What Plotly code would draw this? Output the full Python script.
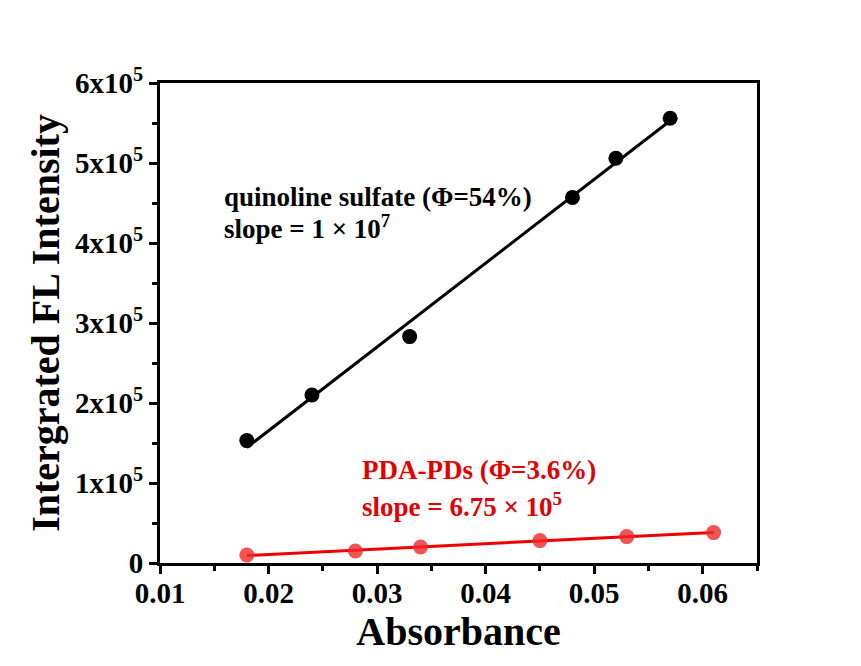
import numpy as np
import plotly.graph_objects as go

# Data
qs_abs = [0.018, 0.024, 0.033, 0.048, 0.052, 0.057]
qs_int = [153000, 210000, 283000, 457000, 506000, 556000]
pd_abs = [0.018, 0.028, 0.034, 0.045, 0.053, 0.061]
pd_int = [10000, 15000, 20000, 28000, 33000, 38000]
y_tickvals = [0, 100000, 200000, 300000, 400000, 500000, 600000]
y_ticktext = ["0", "1x10<sup>5</sup>", "2x10<sup>5</sup>", "3x10<sup>5</sup>",
              "4x10<sup>5</sup>", "5x10<sup>5</sup>", "6x10<sup>5</sup>"]
x_tickvals = [0.01, 0.02, 0.03, 0.04, 0.05, 0.06]
x_ticktext = ["0.01", "0.02", "0.03", "0.04", "0.05", "0.06"]

FONT = "Liberation Serif"

def fit(x, y):
    m, b = np.polyfit(x, y, 1)
    xs = [min(x), max(x)]
    return xs, [m * v + b for v in xs]

fig = go.Figure()
fx, fy = fit(qs_abs, qs_int)
fig.add_trace(go.Scatter(x=fx, y=fy, mode="lines", line=dict(color="black", width=3), showlegend=False))
fig.add_trace(go.Scatter(x=qs_abs, y=qs_int, mode="markers",
                         marker=dict(color="black", size=15), showlegend=False))
fx2, fy2 = fit(pd_abs, pd_int)
fig.add_trace(go.Scatter(x=fx2, y=fy2, mode="lines", line=dict(color="#ee0000", width=3), showlegend=False))
fig.add_trace(go.Scatter(x=pd_abs, y=pd_int, mode="markers",
                         marker=dict(color="rgba(240,40,40,0.8)", size=15), showlegend=False))

ann_font = dict(family=FONT, size=27, weight="bold")
fig.add_annotation(x=0.0157, y=457500, xref="x", yref="y", xanchor="left", yanchor="middle",
                   text="quinoline sulfate (Φ=54%)", showarrow=False,
                   font=dict(ann_font, color="black"))
fig.add_annotation(x=0.0157, y=420000, xref="x", yref="y", xanchor="left", yanchor="middle",
                   text="slope = 1 × 10<sup>7</sup>", showarrow=False,
                   font=dict(ann_font, color="black"))
fig.add_annotation(x=0.0284, y=116250, xref="x", yref="y", xanchor="left", yanchor="middle",
                   text="PDA-PDs (Φ=3.6%)", showarrow=False,
                   font=dict(ann_font, color="#e00000"))
fig.add_annotation(x=0.0284, y=73000, xref="x", yref="y", xanchor="left", yanchor="middle",
                   text="slope = 6.75 × 10<sup>5</sup>", showarrow=False,
                   font=dict(ann_font, color="#e00000"))

fig.update_layout(
    width=861, height=666,
    margin=dict(l=160, r=104, t=83, b=103),
    paper_bgcolor="white", plot_bgcolor="white",
    font=dict(family=FONT, color="black"),
)
fig.update_xaxes(
    range=[0.01, 0.065], tickvals=x_tickvals, ticktext=x_ticktext,
    showline=True, linecolor="black", linewidth=3, mirror=True,
    ticks="outside", ticklen=8, tickwidth=3, tickcolor="black",
    ticklabelstandoff=-6,
    minor=dict(tickvals=[0.015, 0.025, 0.035, 0.045, 0.055, 0.065], ticks="outside",
               ticklen=5, tickwidth=3, tickcolor="black"),
    showgrid=False, zeroline=False,
    tickfont=dict(family=FONT, size=29, weight="bold"),
    title=dict(text="Absorbance", font=dict(family=FONT, size=40, weight="bold"), standoff=0),
)
fig.update_yaxes(
    range=[0, 600000], tickvals=y_tickvals, ticktext=y_ticktext,
    showline=True, linecolor="black", linewidth=3, mirror=True,
    ticks="outside", ticklen=8, tickwidth=3, tickcolor="black",
    minor=dict(tickvals=[50000, 150000, 250000, 350000, 450000, 550000], ticks="outside",
               ticklen=5, tickwidth=3, tickcolor="black"),
    showgrid=False, zeroline=False,
    tickfont=dict(family=FONT, size=29, weight="bold"),
    title=dict(text="Intergrated FL Intensity", font=dict(family=FONT, size=40, weight="bold"), standoff=4),
)

fig.write_html("out.html")
